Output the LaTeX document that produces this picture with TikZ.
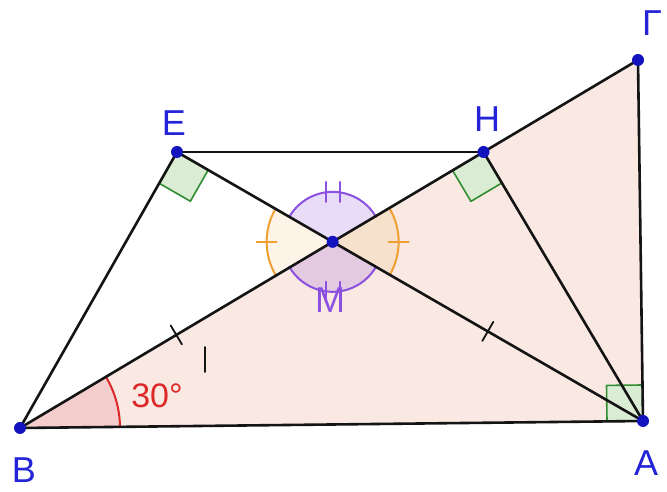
\documentclass[tikz,border=0pt]{standalone}
\usepackage{fontspec}
\setmainfont{Liberation Sans}
\usetikzlibrary{calc}
\definecolor{trifill}{RGB}{249,233,226}
\definecolor{angred}{RGB}{220,40,40}
\definecolor{redfill}{RGB}{245,205,205}
\definecolor{lblblue}{RGB}{35,35,215}
\definecolor{ptblue}{RGB}{20,20,190}
\definecolor{sqgreen}{RGB}{50,140,50}
\definecolor{sqfill}{RGB}{218,236,212}
\definecolor{angorange}{RGB}{240,160,50}
\definecolor{angpurple}{RGB}{140,80,225}
\definecolor{linecol}{RGB}{20,20,20}
\tikzset{
  seg/.style={draw=linecol, line width=2.6pt},
  sqmark/.style={draw=sqgreen, fill=sqfill, line width=1.6pt},
  pt/.style={circle, fill=ptblue, inner sep=0pt, minimum size=12pt},
  lbl/.style={text=lblblue, font=\fontsize{36}{36}\selectfont, inner sep=0pt},
  tickmark/.style={draw=linecol, line width=1.8pt},
}
\begin{document}
\begin{tikzpicture}[x=1pt,y=1pt, line cap=round, line join=round]
\useasboundingbox (0,0) rectangle (667,492);
\fill[white] (0,0) rectangle (667,492);
\coordinate (B) at (20,64);
\coordinate (A) at (643,71);
\coordinate (G) at (638,432);
\coordinate (H) at ($(B)!0.75!(G)$);
\coordinate (E) at (177,340);
\coordinate (M) at (intersection of B--G and E--A);
% triangle fill
\fill[trifill] (B) -- (A) -- (G) -- cycle;
% 30 degree sector at B
\fill[redfill] (B) -- ++(0.64:100) arc[start angle=0.64, end angle=30.77, radius=100] -- cycle;
\draw[angred, line width=2pt] ($(B)+(0.64:100)$) arc[start angle=0.64, end angle=30.77, radius=100];
% sectors at M
\fill[angorange, fill opacity=0.12] (M) -- ++(150:66) arc[start angle=150, end angle=210, radius=66] -- cycle;
\fill[angorange, fill opacity=0.12] (M) -- ++(-30:66) arc[start angle=-30, end angle=30, radius=66] -- cycle;
\fill[angpurple, fill opacity=0.2] (M) -- ++(30:50) arc[start angle=30, end angle=150, radius=50] -- cycle;
\fill[angpurple, fill opacity=0.2] (M) -- ++(210:50) arc[start angle=210, end angle=330, radius=50] -- cycle;
\draw[angorange, line width=2pt] ($(M)+(150:66)$) arc[start angle=150, end angle=210, radius=66];
\draw[angorange, line width=2pt] ($(M)+(-30:66)$) arc[start angle=-30, end angle=30, radius=66];
\draw[angpurple, line width=2pt] ($(M)+(30:50)$) arc[start angle=30, end angle=150, radius=50];
\draw[angpurple, line width=2pt] ($(M)+(210:50)$) arc[start angle=210, end angle=330, radius=50];
% arc ticks
\draw[angorange, line width=2pt] ($(M)+(-76,0)$) -- ($(M)+(-56,0)$);
\draw[angorange, line width=2pt] ($(M)+(56,0)$) -- ($(M)+(76,0)$);
\draw[angpurple, line width=2pt] ($(M)+(-7,40)$) -- ($(M)+(-7,60)$);
\draw[angpurple, line width=2pt] ($(M)+(7,40)$) -- ($(M)+(7,60)$);
\draw[angpurple, line width=2pt] ($(M)+(-7,-40)$) -- ($(M)+(-7,-60)$);
\draw[angpurple, line width=2pt] ($(M)+(7,-40)$) -- ($(M)+(7,-60)$);
% right angle marks
\coordinate (a1) at ($(A)!36pt!(B)$);
\coordinate (a2) at ($(A)!36pt!(G)$);
\draw[sqmark] (A) -- (a1) -- ($(a1)+(a2)-(A)$) -- (a2) -- cycle;
\coordinate (e1) at ($(E)!36pt!(B)$);
\coordinate (e2) at ($(E)!36pt!(A)$);
\draw[sqmark] (E) -- (e1) -- ($(e1)+(e2)-(E)$) -- (e2) -- cycle;
\coordinate (h1) at ($(H)!36pt!(B)$);
\coordinate (h2) at ($(H)!36pt!(A)$);
\draw[sqmark] (H) -- (h1) -- ($(h1)+(h2)-(H)$) -- (h2) -- cycle;
% segments
\draw[seg] (B) -- (A) -- (G) -- cycle;
\draw[seg] (E) -- (H);
\draw[seg] (B) -- (E) -- (A);
\draw[seg] (H) -- (A);
% equal-length ticks
\draw[tickmark] ($(B)!0.5!(M)!11pt!90:(M)$) -- ($(B)!0.5!(M)!11pt!-90:(M)$);
\draw[tickmark] ($(M)!0.5!(A)!11pt!90:(A)$) -- ($(M)!0.5!(A)!11pt!-90:(A)$);
\draw[tickmark] (205,120) -- (205,145);
% points
\foreach \p in {A,B,G,E,H,M} \node[pt] at (\p) {};
% labels
\node[lbl] (lB) at (24,22) {B};
\node[lbl] (lA) at (646,29) {A};
\node[lbl] (lG) at (652,469) {Γ};
\node[lbl] (lE) at (174,369) {E};
\node[lbl] (lH) at (487,373) {H};
\node[lbl, text=angpurple] (lM) at (330,192) {M};
\node[text=angred, font=\fontsize{34}{34}\selectfont, inner sep=0pt] (l30) at (157,96) {30°};
\end{tikzpicture}
\end{document}
